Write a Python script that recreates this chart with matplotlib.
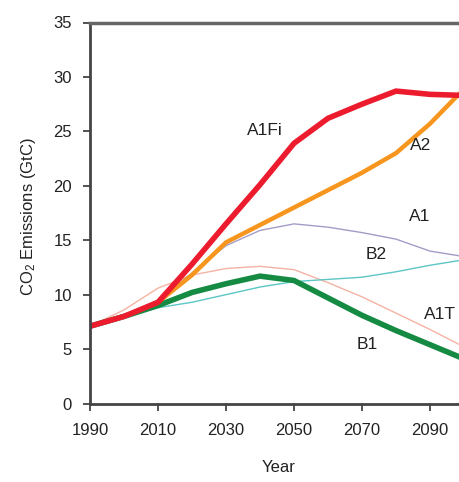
import numpy as np
import matplotlib
matplotlib.use('Agg')
import matplotlib.pyplot as plt

plt.rcParams['font.family'] = ['Liberation Sans', 'DejaVu Sans']
plt.rcParams['mathtext.default'] = 'regular'

# SRES emission scenarios
years = [1990, 2000, 2010, 2020, 2030, 2040, 2050, 2060, 2070, 2080, 2090, 2100]
a1fi = [7.1, 8.0, 9.3, 12.8, 16.5, 20.1, 23.9, 26.2, 27.5, 28.7, 28.4, 28.3]
a2   = [7.1, 8.0, 9.3, 11.8, 14.8, 16.4, 18.0, 19.6, 21.2, 23.0, 25.7, 28.9]
a1   = [7.1, 8.1, 9.5, 12.0, 14.5, 15.9, 16.5, 16.2, 15.7, 15.1, 14.0, 13.5]
b2   = [7.1, 8.0, 8.8, 9.3, 10.0, 10.7, 11.2, 11.4, 11.6, 12.1, 12.7, 13.2]
a1t  = [7.1, 8.6, 10.6, 11.8, 12.4, 12.6, 12.3, 11.1, 9.8, 8.3, 6.8, 5.2]
b1   = [7.1, 8.0, 9.0, 10.2, 11.0, 11.7, 11.3, 9.7, 8.1, 6.7, 5.4, 4.1]

xticks = [1990, 2010, 2030, 2050, 2070, 2090]
yticks = [0, 5, 10, 15, 20, 25, 30, 35]

# label name, x, y (data coords)
labels = [('A1Fi', 2041.5, 25.1), ('A2', 2087.1, 23.7), ('A1', 2087.1, 17.2),
          ('B2', 2074.1, 13.7), ('A1T', 2092.9, 8.2), ('B1', 2071.5, 5.4)]

fig = plt.figure(figsize=(4.59, 4.82), dpi=100)
ax = fig.add_axes([90/459, 78.5/482, 374/459, 381/482])

# thin lines first
ax.plot(years, a1t, color='#f5b3a3', lw=1.0)
ax.plot(years, b2, color='#5cc6c6', lw=1.0)
ax.plot(years, a1, color='#a49cc8', lw=1.0)
# thick lines
ax.plot(years, b1, color='#148a42', lw=4.0, solid_capstyle='butt')
ax.plot(years, a2, color='#f7961e', lw=3.2, solid_capstyle='butt')
ax.plot(years, a1fi, color='#ec1c2e', lw=4.0, solid_capstyle='butt')

for name, x, y in labels:
    ax.text(x, y, name, fontsize=12.5, ha='center', va='center', color='#222222')

ax.set_xlim(1990, 2100)
ax.set_ylim(0, 35)
ax.set_xticks(xticks)
ax.set_yticks(yticks)
ax.tick_params(axis='both', direction='out', length=5, width=1.3,
               color='#444444', labelsize=12, labelcolor='#222222')
ax.tick_params(axis='x', pad=9)
ax.tick_params(axis='y', pad=8)

for s in ['left', 'bottom']:
    ax.spines[s].set_color('#444444')
    ax.spines[s].set_linewidth(2)
ax.spines['top'].set_color('#666666')
ax.spines['top'].set_linewidth(2.5)
ax.spines['right'].set_visible(False)

fig.text(29/459, 1 - 217/482, 'CO$_2$ Emissions (GtC)', rotation=90,
         ha='center', va='center', fontsize=12, color='#222222')
fig.text(279/459, 1 - 468/482, 'Year', ha='center', va='center',
         fontsize=12, color='#222222')

fig.savefig('out.png', dpi=100)
